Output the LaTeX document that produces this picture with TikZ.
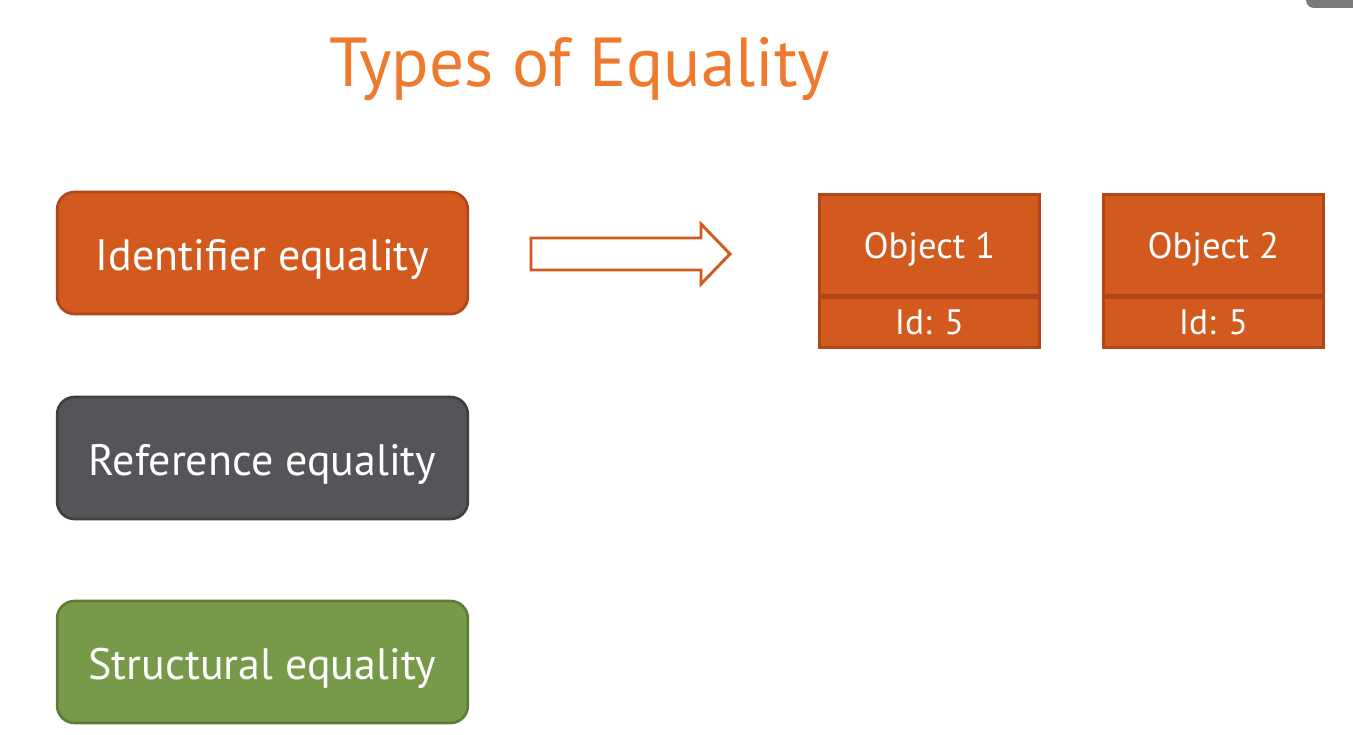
\documentclass[tikz,border=0pt]{standalone}
\usepackage{fontspec}
\setmainfont{PT Sans}
\definecolor{titleorange}{HTML}{EE7A2E}
\definecolor{boxorange}{HTML}{D35A1E}
\definecolor{edgeorange}{HTML}{B0471A}
\definecolor{boxgray}{HTML}{545558}
\definecolor{edgegray}{HTML}{3E3F42}
\definecolor{boxgreen}{HTML}{77994A}
\definecolor{edgegreen}{HTML}{5D7C36}
\definecolor{tabgray}{HTML}{7A7A7A}
\begin{document}
\begin{tikzpicture}[x=0.75pt,y=-0.75pt,
  catbox/.style={rounded corners=13pt, line width=2pt, minimum width=308pt, minimum height=91.5pt, inner sep=0pt, text=white, font=\fontsize{33}{38}\selectfont, text height=26pt, text depth=0pt},
  objtop/.style={fill=boxorange, draw=edgeorange, line width=2pt, minimum width=165pt, minimum height=75.5pt, inner sep=0pt, text=white, font=\fontsize{27.5}{32}\selectfont, text height=20pt, text depth=0pt},
  objbot/.style={fill=boxorange, draw=edgeorange, line width=2pt, minimum width=165pt, minimum height=37.5pt, inner sep=0pt, text=white, font=\fontsize{26.5}{32}\selectfont, text height=18pt, text depth=0pt},
  hollowarrow/.style={draw=boxorange, line width=2.2pt, fill=white, line join=miter}]
\path[use as bounding box, fill=white] (0,0) rectangle (1353,735);
\fill[tabgray, rounded corners=6pt] (1306,-20) rectangle (1365,8);
\node[text=titleorange, font=\fontsize{52}{60}\selectfont, anchor=base] (title) at (580,87) {Types of Equality};
\node[catbox, fill=boxorange, draw=edgeorange] (ident) at (262.5,253) {Identifier equality};
\node[catbox, fill=boxgray, draw=edgegray] (ref) at (262.5,458) {Reference equality};
\node[catbox, fill=boxgreen, draw=edgegreen] (struct) at (262.5,662) {Structural equality};
\draw[hollowarrow] (531,238) -- (701,238) -- (701,224) -- (730,254) -- (701,284) -- (701,270) -- (531,270) -- cycle;
\node[objtop, anchor=north west] (o1) at (818,193) {Object 1};
\node[objbot, anchor=north] (o1id) at (o1.south) {Id: 5};
\node[objtop, anchor=north west] (o2) at (1102,193) {Object 2};
\node[objbot, anchor=north] (o2id) at (o2.south) {Id: 5};
\end{tikzpicture}
\end{document}
